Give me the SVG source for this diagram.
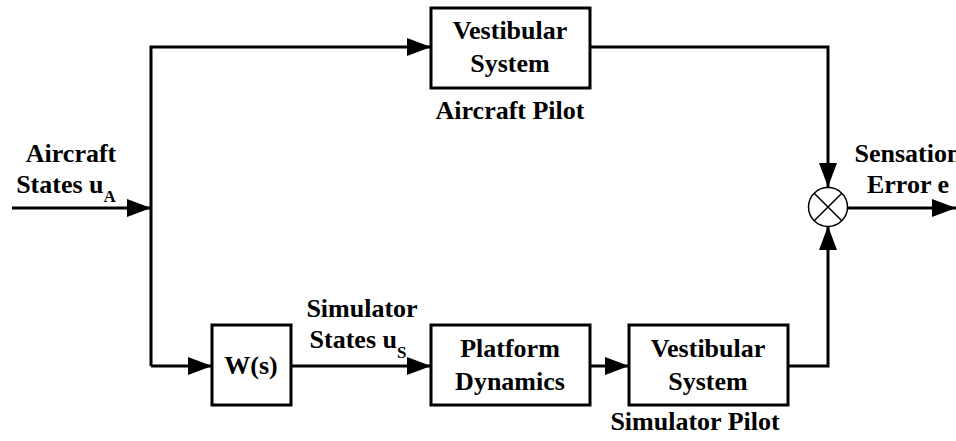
<svg xmlns="http://www.w3.org/2000/svg" width="956" height="441" viewBox="0 0 956 441">
<style>
text{font-family:"Liberation Serif","Times New Roman",serif;font-weight:bold;font-size:26px;fill:#000;text-anchor:middle}
.sub{font-size:17px}
.box{fill:#fff;stroke:#000;stroke-width:3}
.ln{fill:none;stroke:#000;stroke-width:3}
</style>
<defs>
<marker id="ah" markerUnits="userSpaceOnUse" markerWidth="24" markerHeight="18" refX="24" refY="9" orient="auto">
<path d="M0,0 L24,9 L0,18 Z" fill="#000"/>
</marker>
</defs>
<rect width="956" height="441" fill="#fff"/>
<g id="connectors">
<path class="ln" d="M12,208 H151" marker-end="url(#ah)"/>
<path class="ln" d="M151,366 V47 H431" marker-end="url(#ah)"/>
<path class="ln" d="M151,366 H212" marker-end="url(#ah)"/>
<path class="ln" d="M291,366 H431" marker-end="url(#ah)"/>
<path class="ln" d="M590,366 H629" marker-end="url(#ah)"/>
<path class="ln" d="M590,47 H828 V187" marker-end="url(#ah)"/>
<path class="ln" d="M788,366 H828 V226" marker-end="url(#ah)"/>
<path class="ln" d="M848,208 H956" marker-end="url(#ah)"/>
</g>
<g id="vest_top">
<rect class="box" x="431" y="8" width="159" height="80"/>
<text x="510" y="39">Vestibular</text>
<text x="510" y="72">System</text>
<text x="510" y="119">Aircraft Pilot</text>
</g>
<g id="sum">
<circle cx="828" cy="207" r="19.5" fill="#fff" stroke="#000" stroke-width="1.5"/>
<path d="M814.2,193.2 L841.8,220.8 M841.8,193.2 L814.2,220.8" stroke="#000" stroke-width="1.5"/>
</g>
<g id="ws">
<rect class="box" x="212" y="325" width="79" height="80"/>
<text x="251" y="374">W(s)</text>
</g>
<g id="platform">
<rect class="box" x="431" y="325" width="159" height="80"/>
<text x="510" y="357">Platform</text>
<text x="510" y="390">Dynamics</text>
</g>
<g id="vest_bottom">
<rect class="box" x="629" y="325" width="159" height="80"/>
<text x="708" y="357">Vestibular</text>
<text x="708" y="390">System</text>
<text x="695" y="430">Simulator Pilot</text>
</g>
<g id="labels">
<text x="71" y="162">Aircraft</text>
<text x="66" y="193">States u<tspan class="sub" dy="9">A</tspan></text>
<text x="362" y="317">Simulator</text>
<text x="358" y="348">States u<tspan class="sub" dy="10">S</tspan></text>
<text x="908" y="162">Sensation</text>
<text x="908" y="193">Error e</text>
</g>
</svg>
